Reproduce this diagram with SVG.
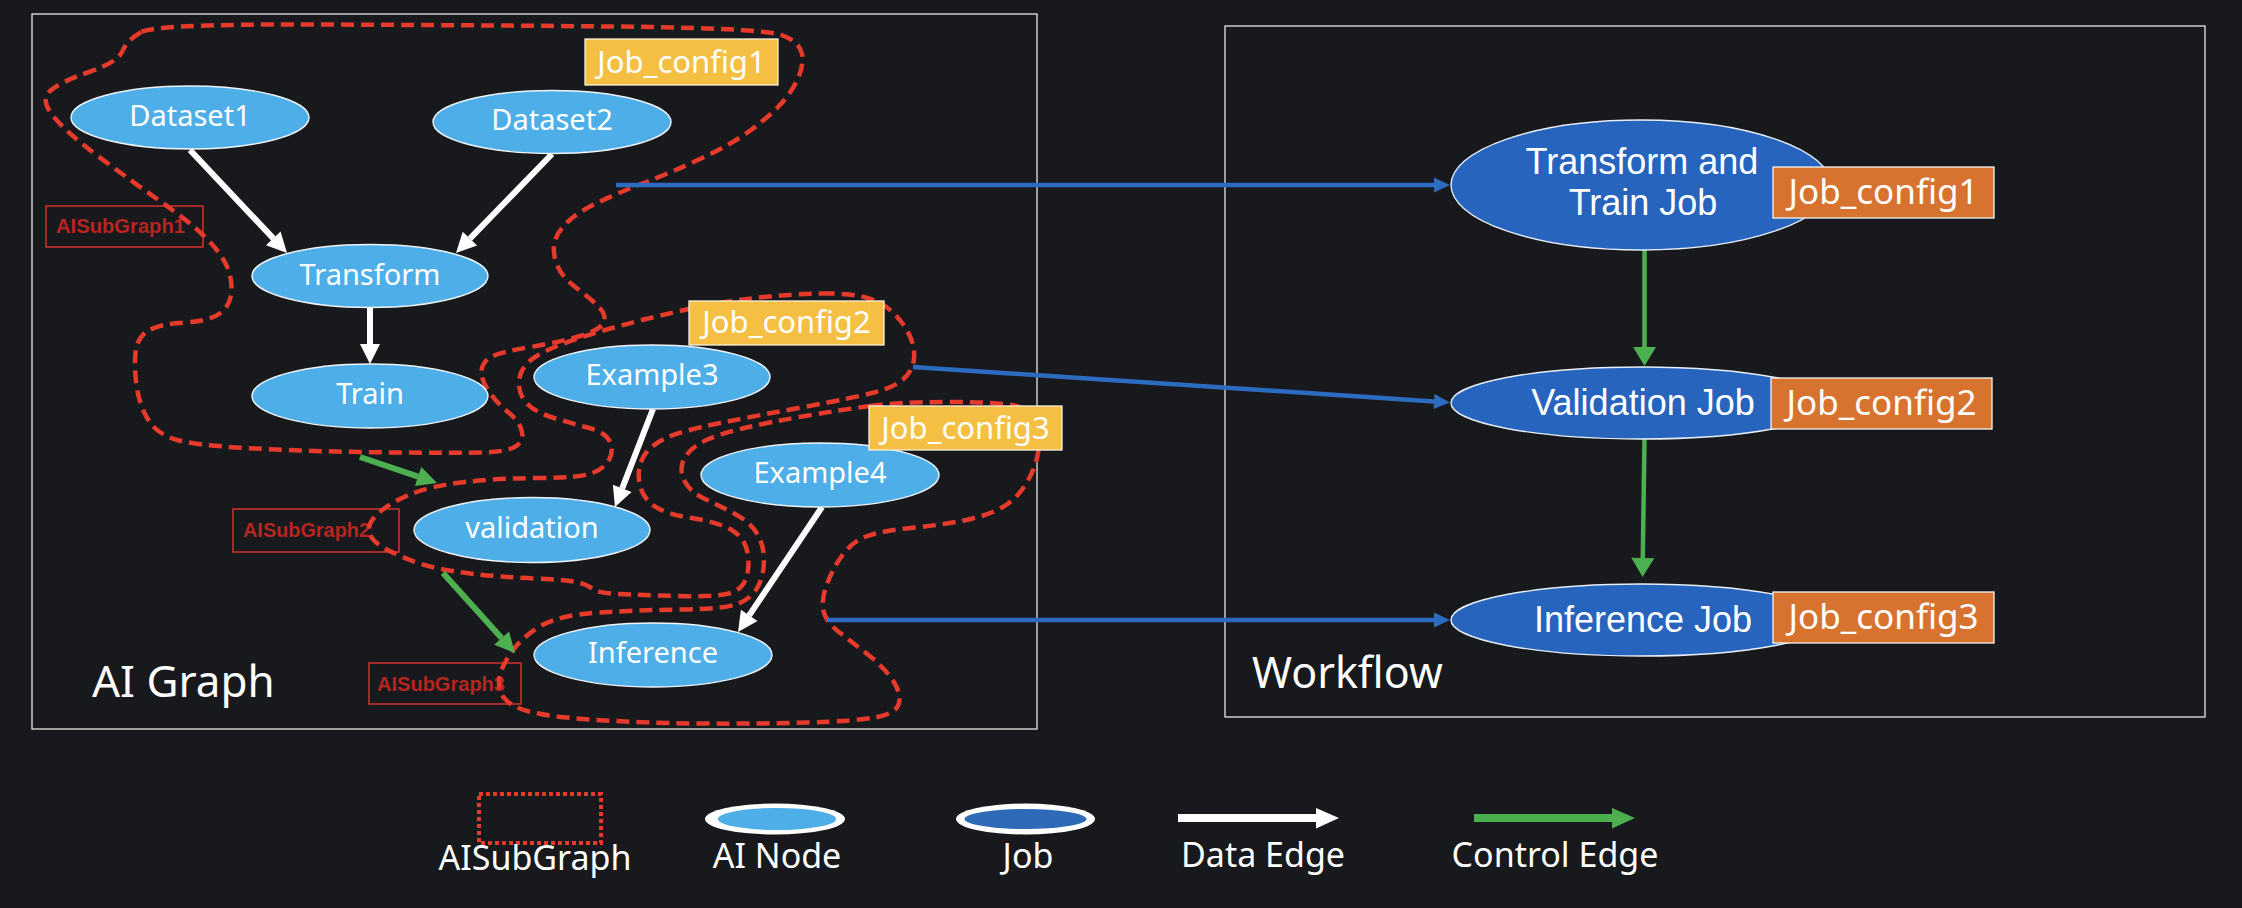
<svg xmlns="http://www.w3.org/2000/svg" width="2242" height="908" viewBox="0 0 2242 908">
<defs>
<style>
.frame{fill:none;stroke:#e6e6e6;stroke-width:1.3}
.sub{fill:none;stroke:#e53a2c;stroke-width:4.5;stroke-dasharray:13 7;stroke-linejoin:round}
.ai{fill:#4daee8;stroke:#eef4fa;stroke-width:1.4}
.job{fill:#2764bd;stroke:#e6eef8;stroke-width:1.4}
.t{font-family:"Noto Sans","Open Sans","Liberation Sans",sans-serif;fill:#ffffff}
.n{font-size:29px;text-anchor:middle}
.jt{font-family:"Liberation Sans",Arial,sans-serif;font-size:36px;text-anchor:middle;fill:#ffffff}
.cfg{font-size:35px;text-anchor:middle}
.ycfg{font-size:31px;text-anchor:middle}
.ob{fill:#d8732f;stroke:#f3f3f3;stroke-width:1.3}
.yb{fill:#f4bf42;stroke:#f8f1dc;stroke-width:1.3}
.sgl rect{fill:none;stroke:#c8302b;stroke-width:1.6}
.sgl text{font-family:"Liberation Sans",Arial,sans-serif;font-weight:bold;font-size:21px;fill:#b72521}
.de{stroke:#ffffff;stroke-width:6;fill:none}
.ce{stroke:#4caf50;stroke-width:6;fill:none}
.we{stroke:#4caf50;stroke-width:4.5;fill:none}
.be{stroke:#2c6cc0;stroke-width:4.5;fill:none}
.big{font-size:44px}
.lg{font-size:34px;text-anchor:middle}
</style>
<marker id="ah-w" markerUnits="userSpaceOnUse" markerWidth="20" markerHeight="20" refX="0" refY="10" orient="auto" overflow="visible"><path d="M0,0 L20,10 L0,20 Z" fill="#ffffff"/></marker>
<marker id="ah-g" markerUnits="userSpaceOnUse" markerWidth="20" markerHeight="20" refX="0" refY="10" orient="auto" overflow="visible"><path d="M0,0 L20,10 L0,20 Z" fill="#4caf50"/></marker>
<marker id="ah-wf" markerUnits="userSpaceOnUse" markerWidth="19" markerHeight="23" refX="0" refY="11.5" orient="auto" overflow="visible"><path d="M0,0 L19,11.5 L0,23 Z" fill="#4caf50"/></marker>
<marker id="ah-b" markerUnits="userSpaceOnUse" markerWidth="16" markerHeight="15" refX="0" refY="7.5" orient="auto" overflow="visible"><path d="M0,0 L16,7.5 L0,15 Z" fill="#2c6cc0"/></marker>
</defs>
<rect x="0" y="0" width="2242" height="908" fill="#18191c"/>

<g id="ai-graph-frame">
<rect class="frame" x="32" y="14" width="1005" height="715"/>
<text class="t big" x="92" y="697">AI Graph</text>
</g>
<g id="workflow-frame">
<rect class="frame" x="1225" y="26" width="980" height="691"/>
<text class="t" style="font-size:43px" x="1252" y="688">Workflow</text>
</g>

<g id="subgraph-labels" class="sgl">
<g id="aisubgraph1-label"><rect x="46" y="206" width="157" height="41"/><text x="56" y="233" textLength="129" lengthAdjust="spacingAndGlyphs">AISubGraph1</text></g>
<g id="aisubgraph2-label"><rect x="233" y="509" width="166" height="43"/><text x="243" y="537" textLength="127" lengthAdjust="spacingAndGlyphs">AISubGraph2</text></g>
<g id="aisubgraph3-label"><rect x="369" y="663" width="152" height="41"/><text x="377" y="691" textLength="128" lengthAdjust="spacingAndGlyphs">AISubGraph3</text></g>
</g>

<g id="subgraphs">
<path id="aisubgraph1" class="sub" d="M141.5,32 Q156,24 308,24.5 Q460,25 611.5,26.5 Q763,28 781.5,35 Q800,42 802,54 Q804,66 797,80.5 Q790,95 777.5,107.5 Q765,120 747.5,132.5 Q730,145 700,159 Q670,173 645,182.5 Q620,192 598,202.5 Q576,213 565.5,224 Q555,235 554,245.5 Q553,256 558,267 Q563,278 576.5,288 Q590,298 598.5,306.5 Q607,315 603.5,322.5 Q600,330 580,336 Q560,342 530,347 Q500,352 491,357 Q482,362 481.5,371 Q481,380 489,391.5 Q497,403 508.5,412.5 Q520,422 522,432 Q524,442 514.5,447 Q505,452 482.5,452.5 Q460,453 395,452.5 Q330,452 265,449 Q200,446 179,440.5 Q158,435 149,421 Q140,407 137,388.5 Q134,370 135.5,353.5 Q137,337 148.5,330.5 Q160,324 185,322.5 Q210,321 220.5,313 Q231,305 231.5,290 Q232,275 224.5,261.5 Q217,248 202,234 Q187,220 158.5,200 Q130,180 98.5,156.5 Q67,133 53.5,116.5 Q40,100 50,91 Q60,82 89,72 Q118,62 122.5,51 Q127,40 141.5,32 Z"/>
<path id="aisubgraph2" class="sub" d="M821.5,293.5 Q853,293 869,298.5 Q885,304 895,314.5 Q905,325 910,336.5 Q915,348 914,359 Q913,370 904,378.5 Q895,387 874,392.5 Q853,398 806.5,406.5 Q760,415 720,423 Q680,431 664,439 Q648,447 642.5,458.5 Q637,470 639.5,483.5 Q642,497 653.5,505.5 Q665,514 691.5,518 Q718,522 731.5,530 Q745,538 747.5,552.5 Q750,567 746,578.5 Q742,590 728.5,593.5 Q715,597 677.5,596 Q640,595 619,594 Q598,593 593,589 Q588,585 579,582.5 Q570,580 535,578.5 Q500,577 470,573.5 Q440,570 420,563.5 Q400,557 385,548.5 Q370,540 369,531 Q368,522 379,512.5 Q390,503 410,494.5 Q430,486 465,482 Q500,478 540,478 Q580,478 592.5,473 Q605,468 609.5,459 Q614,450 609.5,441 Q605,432 587.5,427.5 Q570,423 552.5,417.5 Q535,412 527,403.5 Q519,395 519,383.5 Q519,372 527,363.5 Q535,355 556,346.5 Q577,338 608.5,329 Q640,320 680,311 Q720,302 755,298 Q790,294 821.5,293.5 Z"/>
<path id="aisubgraph3" class="sub" d="M870,406 Q900,402 950,402 Q1000,402 1016,406 Q1032,410 1036,425 Q1040,440 1038,453 Q1036,466 1028,480.5 Q1020,495 1007.5,504 Q995,513 972.5,518.5 Q950,524 915,527.5 Q880,531 866,536.5 Q852,542 842.5,555 Q833,568 827,584 Q821,600 823.5,611 Q826,622 839,632 Q852,642 868.5,655 Q885,668 893.5,681.5 Q902,695 898.5,704.5 Q895,714 875,717.5 Q855,721 807.5,722.5 Q760,724 700,723.5 Q640,723 590,719.5 Q540,716 522.5,709.5 Q505,703 501,693 Q497,683 501,671.5 Q505,660 515,647.5 Q525,635 542.5,625 Q560,615 600,612.5 Q640,610 682.5,609.5 Q725,609 738.5,603.5 Q752,598 758,586.5 Q764,575 764,560 Q764,545 757,533.5 Q750,522 735,514 Q720,506 705,499 Q690,492 684.5,481 Q679,470 683.5,460 Q688,450 701.5,442.5 Q715,435 742.5,428.5 Q770,422 805,416 Q840,410 870,406 Z"/>
</g>

<g id="connectors">
<line class="de" x1="190" y1="150" x2="273.3" y2="238.4" marker-end="url(#ah-w)"/>
<line class="de" x1="552" y1="154" x2="469.9" y2="238.6" marker-end="url(#ah-w)"/>
<line class="de" x1="370" y1="308" x2="370" y2="344" marker-end="url(#ah-w)"/>
<line class="de" x1="653" y1="409" x2="622.2" y2="488.4" marker-end="url(#ah-w)"/>
<line class="de" x1="822" y1="507" x2="749.2" y2="615.4" marker-end="url(#ah-w)"/>
<line class="ce" x1="360" y1="457" x2="418.1" y2="476.6" marker-end="url(#ah-g)"/>
<line class="ce" x1="443" y1="573" x2="501.6" y2="638.1" marker-end="url(#ah-g)"/>
<line class="we" x1="1644.5" y1="250" x2="1644.5" y2="347" marker-end="url(#ah-wf)"/>
<line class="we" x1="1644.5" y1="439" x2="1642.8" y2="558" marker-end="url(#ah-wf)"/>
<line class="be" x1="616" y1="185" x2="1434" y2="185" marker-end="url(#ah-b)"/>
<line class="be" x1="913" y1="367" x2="1434" y2="401.4" marker-end="url(#ah-b)"/>
<line class="be" x1="828" y1="620" x2="1434" y2="620" marker-end="url(#ah-b)"/>
</g>

<g id="dataset1"><ellipse class="ai" cx="190" cy="117.5" rx="119" ry="31.5"/><text class="t n" x="190" y="126">Dataset1</text></g>
<g id="dataset2"><ellipse class="ai" cx="552" cy="122" rx="119" ry="31.5"/><text class="t n" x="552" y="130">Dataset2</text></g>
<g id="transform"><ellipse class="ai" cx="370" cy="276" rx="118" ry="31.5"/><text class="t n" x="370" y="285">Transform</text></g>
<g id="train"><ellipse class="ai" cx="370" cy="396" rx="118" ry="32"/><text class="t n" x="370" y="404">Train</text></g>
<g id="example3"><ellipse class="ai" cx="652" cy="377" rx="118" ry="32"/><text class="t n" x="652" y="385">Example3</text></g>
<g id="example4"><ellipse class="ai" cx="820" cy="475" rx="119" ry="32"/><text class="t n" x="820" y="483">Example4</text></g>
<g id="validation"><ellipse class="ai" cx="532" cy="530" rx="118" ry="32.5"/><text class="t n" x="532" y="538">validation</text></g>
<g id="inference"><ellipse class="ai" cx="653" cy="655" rx="119" ry="32"/><text class="t n" x="653" y="663">Inference</text></g>

<g id="ai-job-config1"><rect class="yb" x="585" y="39" width="193" height="46"/><text class="t ycfg" x="681.5" y="72.5">Job_config1</text></g>
<g id="ai-job-config2"><rect class="yb" x="689" y="301" width="195" height="44"/><text class="t ycfg" x="786.5" y="333">Job_config2</text></g>
<g id="ai-job-config3"><rect class="yb" x="869" y="406" width="193" height="44"/><text class="t ycfg" x="965.5" y="438.5">Job_config3</text></g>

<g id="transform-train-job"><ellipse class="job" cx="1641" cy="185" rx="190" ry="65"/><text class="jt" x="1642" y="174">Transform and</text><text class="jt" x="1643" y="215">Train Job</text></g>
<g id="validation-job"><ellipse class="job" cx="1641" cy="403" rx="190" ry="36"/><text class="jt" x="1643" y="415">Validation Job</text></g>
<g id="inference-job"><ellipse class="job" cx="1641" cy="620" rx="190" ry="36"/><text class="jt" x="1643" y="632">Inference Job</text></g>

<g id="wf-job-config1"><rect class="ob" x="1773" y="167" width="221" height="51"/><text class="t cfg" x="1883.5" y="204">Job_config1</text></g>
<g id="wf-job-config2"><rect class="ob" x="1771" y="378" width="221" height="51"/><text class="t cfg" x="1881.5" y="415">Job_config2</text></g>
<g id="wf-job-config3"><rect class="ob" x="1773" y="592" width="221" height="51"/><text class="t cfg" x="1883.5" y="629">Job_config3</text></g>

<g id="legend">
<rect x="479" y="794" width="122" height="49" fill="none" stroke="#e53a2c" stroke-width="4" stroke-dasharray="4 3"/>
<text class="t lg" x="535" y="870">AISubGraph</text>
<ellipse cx="775" cy="819" rx="70" ry="15.5" fill="#ffffff"/>
<ellipse cx="777" cy="819" rx="59" ry="11" fill="#4daee8"/>
<text class="t lg" x="777" y="868">AI Node</text>
<ellipse cx="1025.5" cy="819" rx="69.5" ry="15.5" fill="#ffffff"/>
<ellipse cx="1025.5" cy="819" rx="61" ry="10" fill="#2e6ab8"/>
<text class="t lg" x="1028" y="868">Job</text>
<rect x="1178" y="814" width="139" height="8" fill="#ffffff"/>
<path d="M1316,808 L1339,818 L1316,828.5 Z" fill="#ffffff"/>
<text class="t lg" x="1263" y="867">Data Edge</text>
<rect x="1474" y="814" width="139" height="8" fill="#4caf50"/>
<path d="M1612,808 L1635,818 L1612,828.5 Z" fill="#4caf50"/>
<text class="t lg" x="1555" y="867">Control Edge</text>
</g>
</svg>
